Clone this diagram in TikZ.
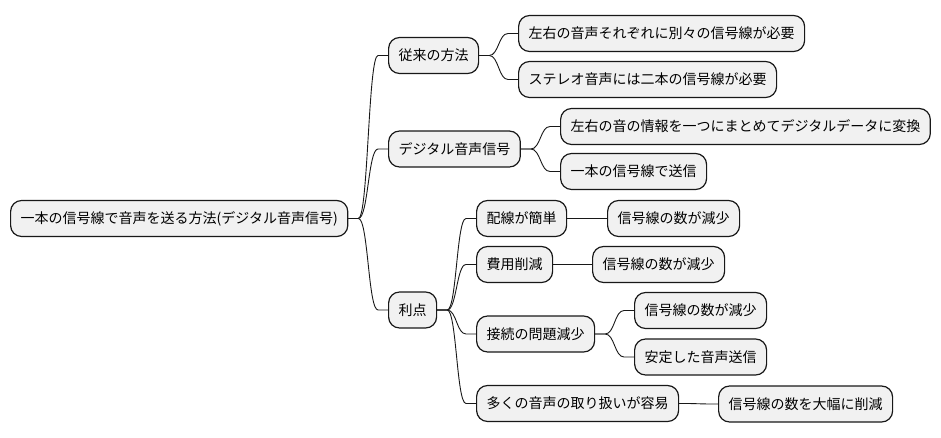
\documentclass[tikz,border=0pt]{standalone}
\usepackage{fontspec}
\setmainfont{Noto Sans CJK JP}
\usetikzlibrary{calc}
\definecolor{boxfill}{HTML}{F1F1F1}
\definecolor{ink}{HTML}{181818}
\tikzset{
  mm/.style={draw=ink, fill=boxfill, line width=1.2pt, rounded corners=11pt,
    minimum height=36pt, inner xsep=10pt, inner ysep=0pt, anchor=west,
    font=\fontsize{14pt}{16pt}\selectfont, text=black},
  edge/.style={draw=ink, line width=0.9pt}
}
\newcommand{\mmedge}[2]{%
  \draw[edge] let \p1=(#1.east), \p2=(#2.west) in
    (\p1) -- (\x1+10pt,\y1) .. controls ({(\x1+\x2)/2},\y1) and ({(\x1+\x2)/2},\y2) .. (\x2-10pt,\y2) -- (\p2);}
\begin{document}
\begin{tikzpicture}[x=1pt,y=-1pt]
\useasboundingbox (0,0) rectangle (941,437);
\node[mm] (root) at (10,218.5) {一本の信号線で音声を送る方法(デジタル音声信号)};
\node[mm] (a) at (388,55.5) {従来の方法};
\node[mm] (a1) at (518,33.5) {左右の音声それぞれに別々の信号線が必要};
\node[mm] (a2) at (518,79.5) {ステレオ音声には二本の信号線が必要};
\node[mm] (b) at (388,149) {デジタル音声信号};
\node[mm] (b1) at (560,126.5) {左右の音の情報を一つにまとめてデジタルデータに変換};
\node[mm] (b2) at (560,171.5) {一本の信号線で送信};
\node[mm] (c) at (388,310) {利点};
\node[mm] (c1) at (476,218.5) {配線が簡単};
\node[mm] (c1a) at (607,218.5) {信号線の数が減少};
\node[mm] (c2) at (476,264.5) {費用削減};
\node[mm] (c2a) at (592,264.5) {信号線の数が減少};
\node[mm] (c3) at (476,334) {接続の問題減少};
\node[mm] (c3a) at (634,310.5) {信号線の数が減少};
\node[mm] (c3b) at (634,357) {安定した音声送信};
\node[mm] (c4) at (476,403.5) {多くの音声の取り扱いが容易};
\node[mm] (c4a) at (718,404) {信号線の数を大幅に削減};
\mmedge{root}{a}
\mmedge{root}{b}
\mmedge{root}{c}
\mmedge{a}{a1}
\mmedge{a}{a2}
\mmedge{b}{b1}
\mmedge{b}{b2}
\mmedge{c}{c1}
\mmedge{c}{c2}
\mmedge{c}{c3}
\mmedge{c}{c4}
\mmedge{c1}{c1a}
\mmedge{c2}{c2a}
\mmedge{c3}{c3a}
\mmedge{c3}{c3b}
\mmedge{c4}{c4a}
\end{tikzpicture}
\end{document}
